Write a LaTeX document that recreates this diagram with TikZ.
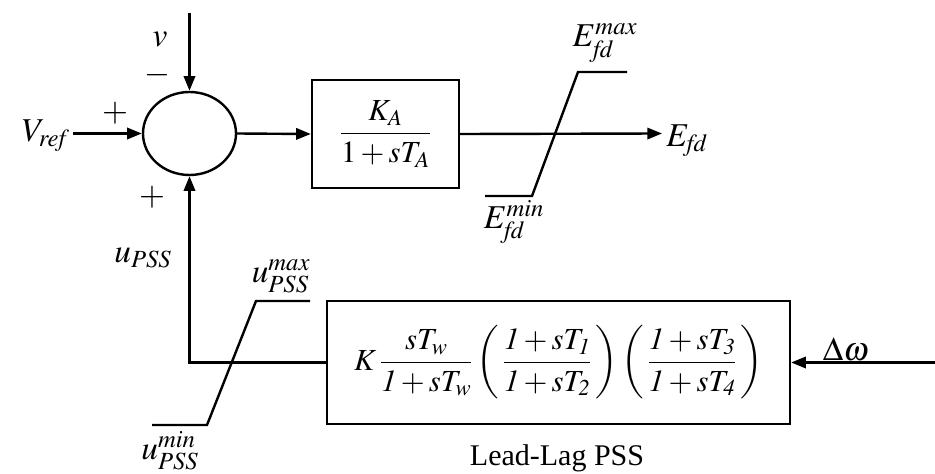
\documentclass[tikz,border=0pt]{standalone}
\usepackage{amsmath}
\usepackage{mathptmx}
\usepackage{fontspec}
\setmainfont{Liberation Serif}
\usetikzlibrary{shapes.geometric,arrows.meta}
\begin{document}
\begin{tikzpicture}[x=0.75pt,y=-0.75pt,
  wire/.style={line width=1.8pt},
  arr/.style={wire,-{Triangle[length=11pt,width=8.5pt]}},
  blk/.style={draw,line width=1.8pt,rectangle,inner sep=0pt,font=\fontsize{23}{27}\selectfont},
  lbl/.style={inner sep=0pt,font=\fontsize{25}{29}\selectfont},
  sat/.style={line width=1.8pt}]
\useasboundingbox (0,0) rectangle (935,474);
% summing junction
\node[draw,line width=1.8pt,ellipse,inner sep=0pt,minimum width=69.75pt,minimum height=62.25pt] (sum) at (189.5,133.5) {};
% K_A block
\node[blk,minimum width=110.25pt,minimum height=81pt] (ka) at (385.5,134) {$\dfrac{K_A}{1+sT_A}$};
% PSS block
\node[blk,minimum width=347.25pt,minimum height=92.25pt] (pss) at (558.5,362.5)
  {$K\,\dfrac{sT_w}{\mathit{1}+sT_w}\left(\,\dfrac{\mathit{1}+sT_{\mathit{1}}}{\mathit{1}+sT_{\mathit{2}}}\,\right)\left(\,\dfrac{\mathit{1}+sT_{\mathit{3}}}{\mathit{1}+sT_{\mathit{4}}}\,\right)$};
% coordinates
\coordinate (vtop) at (189.5,13);
\coordinate (vref) at (73,133.5);
\coordinate (out) at (662,133.5);
\coordinate (dw) at (935,362.5);
\coordinate (corner) at (189.5,362.5);
% connectors
\draw[arr] (vtop) -- (sum.north);
\draw[arr] (vref) -- (sum.west);
\draw[arr] (sum.east) -- (ka.west);
\draw[arr] (ka.east) -- (out);
\draw[arr] (dw) -- (pss.east);
\draw[arr] (pss.west) -- (corner) -- (sum.south);
% saturation blocks
\draw[sat] (485,196) -- (532,196) -- (578,72) -- (627,72);
\draw[sat] (152,425) -- (207,425) -- (256,301) -- (310,301);
% labels
\node[lbl] (lv) at (160,40) {$v$};
\node[lbl] (lminus) at (157,75) {$-$};
\node[lbl] (lplus1) at (115,113) {$+$};
\node[lbl,anchor=east] (lvref) at (70,136) {$V_{\mathit{ref}}$};
\node[lbl] (lplus2) at (152,197) {$+$};
\node[lbl] (lupss) at (143,258) {$u_{\mathit{PSS}}$};
\node[lbl,anchor=west] (lefd) at (666,141) {$E_{\mathit{fd}}$};
\node[lbl] (lemax) at (605,43) {$E_{\mathit{fd}}^{\mathit{max}}$};
\node[lbl] (lemin) at (514,222) {$E_{\mathit{fd}}^{\mathit{min}}$};
\node[lbl] (lumax) at (281,276) {$u_{\mathit{PSS}}^{\mathit{max}}$};
\node[lbl] (lumin) at (170,451) {$u_{\mathit{PSS}}^{\mathit{min}}$};
\node[lbl] (ldw) at (846,349) {$\Delta\omega$};
\node[inner sep=0pt,font=\fontsize{22.5}{26}\selectfont] (lpss) at (557,458) {Lead-Lag PSS};
\end{tikzpicture}
\end{document}
